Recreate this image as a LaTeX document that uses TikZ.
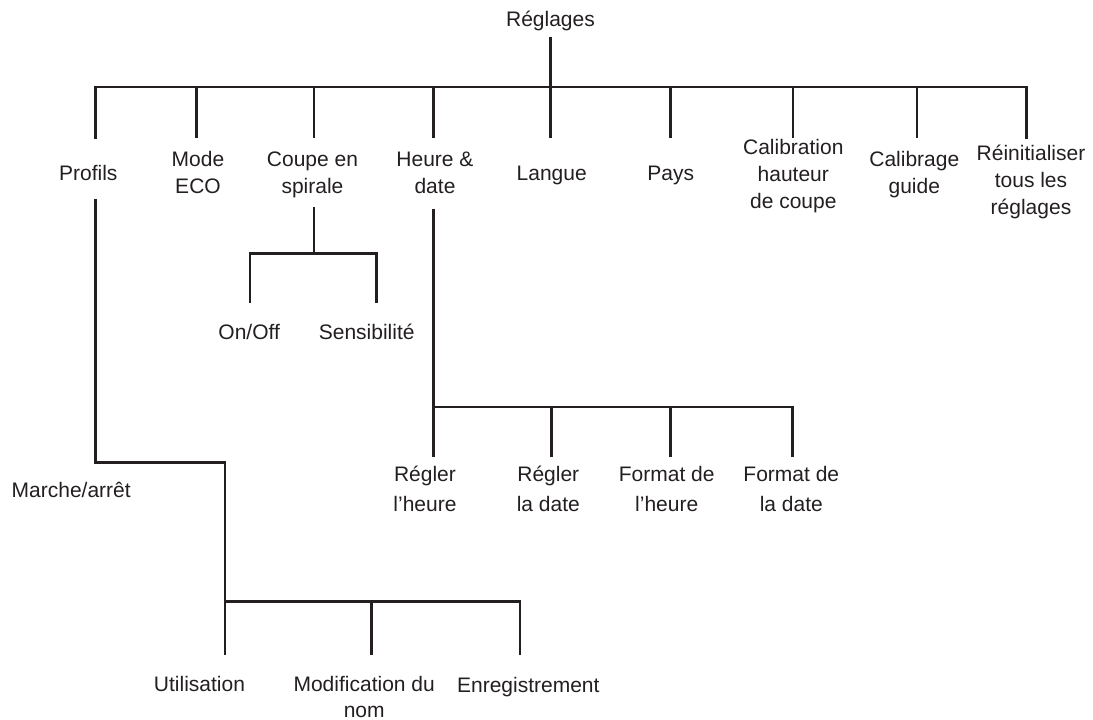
\documentclass[tikz,border=0pt]{standalone}
\usepackage{fontspec}
\setmainfont{Liberation Sans}
\definecolor{ink}{HTML}{231F20}
\newcommand{\ml}[1]{\begin{tabular}[t]{@{}c@{}}#1\end{tabular}}
\begin{document}
\begin{tikzpicture}[x=1pt,y=-1pt,
  lbl/.style={anchor=base, inner sep=0pt, text=ink, font=\fontsize{21}{27}\selectfont},
  lblw/.style={lbl, font=\fontsize{21}{30}\selectfont},
  lbln/.style={lbl, font=\fontsize{21}{25.5}\selectfont},
  wire/.style={draw=ink, line width=2.6pt}]
\useasboundingbox (0,0) rectangle (1093,720);

% labels
\node[lbl] (root) at (550.5,26) {Réglages};
\node[lbl] (profils) at (88.3,180) {Profils};
\node[lbl] (mode) at (198,166.7) {\ml{Mode\\ECO}};
\node[lbl] (coupe) at (312.5,166.7) {\ml{Coupe en\\spirale}};
\node[lbl] (heure) at (435,166.7) {\ml{Heure \&\\date}};
\node[lbl] (langue) at (551.7,180) {Langue};
\node[lbl] (pays) at (670.8,180) {Pays};
\node[lbl] (calib) at (793.3,154) {\ml{Calibration\\hauteur\\de coupe}};
\node[lbl] (calibg) at (914.3,166.7) {\ml{Calibrage\\guide}};
\node[lbl] (reinit) at (1031,160.5) {\ml{Réinitialiser\\tous les\\réglages}};
\node[lbl] (onoff) at (249.2,339.3) {On/Off};
\node[lbl] (sens) at (366.7,339.3) {Sensibilité};
\node[lblw] (rh) at (425,481) {\ml{Régler\\l’heure}};
\node[lblw] (rd) at (548.3,481) {\ml{Régler\\la date}};
\node[lblw] (fh) at (666.7,481) {\ml{Format de\\l’heure}};
\node[lblw] (fd) at (791.3,481) {\ml{Format de\\la date}};
\node[lbl] (marche) at (71.2,497.3) {Marche/arrêt};
\node[lbl] (util) at (199.5,691.7) {Utilisation};
\node[lbln] (modif) at (364.2,691.7) {\ml{Modification du\\nom}};
\node[lbl] (enreg) at (528.3,692.5) {Enregistrement};

% connector points
\coordinate (rootT) at (550.7,37.3);
\coordinate (barL) at (95.7,87);
\coordinate (barR) at (1026.7,87);
\coordinate (profT) at (95.7,138.5);
\coordinate (reinT) at (1026.7,138.5);

% main level
\draw[wire] (rootT) -- (550.7,138);
\draw[wire] (profT) -- (barL) -- (barR) -- (reinT);
\foreach \x in {196.3,314,433.3,670.3,793,917}
  \draw[wire] (\x,87) -- (\x,138);

% Coupe en spirale subtree
\coordinate (coupeB) at (314,207.3);
\draw[wire] (coupeB) -- (314,253.3);
\draw[wire] (250,303.3) -- (250,253.3) -- (376.7,253.3) -- (376.7,303.3);

% Heure & date subtree
\coordinate (heureB) at (433.3,208.7);
\draw[wire] (heureB) -- (433.3,457);
\draw[wire] (433.3,407) -- (792.3,407) -- (792.3,457);
\draw[wire] (551.7,407) -- (551.7,457);
\draw[wire] (670.7,407) -- (670.7,457);

% Profils subtree
\coordinate (profB) at (95.7,199.3);
\draw[wire] (profB) -- (95.7,462.5) -- (225,462.5) -- (225,655);
\draw[wire] (225,601.7) -- (520,601.7) -- (520,655);
\draw[wire] (371.7,601.7) -- (371.7,655);
\end{tikzpicture}
\end{document}
